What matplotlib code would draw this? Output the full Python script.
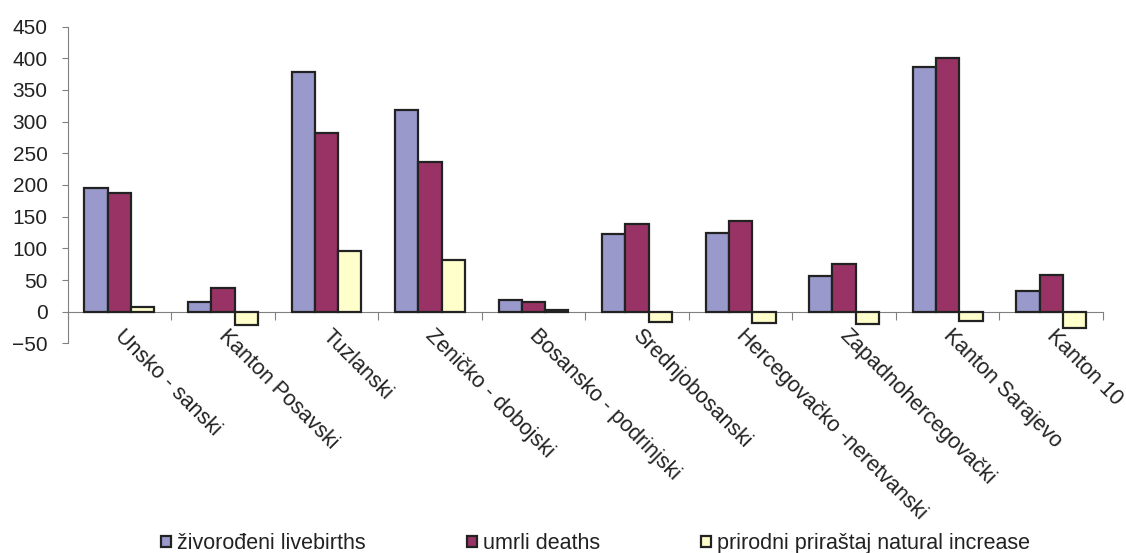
import numpy as np
import matplotlib
matplotlib.use('Agg')
import matplotlib.pyplot as plt
import matplotlib.transforms as mtransforms
from matplotlib.ticker import FixedLocator, NullFormatter

plt.rcParams['font.family'] = ['Liberation Sans', 'DejaVu Sans']

cantons = ['Unsko - sanski', 'Kanton Posavski', 'Tuzlanski', 'Zeničko - dobojski',
           'Bosansko - podrinjski', 'Srednjobosanski', 'Hercegovačko -neretvanski',
           'Zapadnohercegovački', 'Kanton Sarajevo', 'Kanton 10']
livebirths = [196, 16, 378, 318, 18, 122, 125, 56, 386, 33]
deaths = [188, 37, 282, 237, 16, 138, 143, 76, 400, 58]
natural_increase = [8, -21, 96, 81, 2, -16, -18, -20, -14, -25]

series_labels = ['živorođeni livebirths', 'umrli deaths', 'prirodni priraštaj natural increase']
colors = ['#9999cc', '#993366', '#ffffcc']

fig = plt.figure(figsize=(11.26, 5.53), dpi=100)
ax = fig.add_axes([0.0601, 0.379, 0.9194, 0.573])

x = np.arange(len(cantons))
w = 0.225
for k, vals in enumerate([livebirths, deaths, natural_increase]):
    ax.bar(x + (k - 1) * w, vals, width=w, color=colors[k], edgecolor='#222222',
           linewidth=1.6, label=series_labels[k], zorder=3)

ax.set_xlim(-0.5, len(cantons) - 0.5)
ax.set_ylim(-50, 450)
ax.set_yticks(range(-50, 451, 50))

for s in ['top', 'right']:
    ax.spines[s].set_visible(False)
ax.spines['bottom'].set_position(('data', 0))
ax.spines['bottom'].set_color('#808080')
ax.spines['left'].set_color('#808080')
ax.spines['bottom'].set_zorder(2)

ax.xaxis.set_major_locator(FixedLocator(np.arange(-0.5, len(cantons), 1.0)))
ax.xaxis.set_major_formatter(NullFormatter())
ax.xaxis.set_minor_locator(FixedLocator(x))
ax.set_xticklabels(cantons, minor=True, rotation=-45, ha='left', va='top',
                   rotation_mode='anchor', fontsize=15.5, color='#222222')
ax.tick_params(axis='x', which='major', direction='out', length=6, color='#808080')
ax.tick_params(axis='x', which='minor', length=0, pad=10)
ax.tick_params(axis='y', direction='out', length=4.5, color='#808080', labelsize=15,
               labelcolor='#222222', pad=10)

# nudge the slanted category labels right, as in the original
shift = mtransforms.ScaledTranslation(4.5 / 72, 0, fig.dpi_scale_trans)
for lbl in ax.xaxis.get_minorticklabels():
    lbl.set_transform(lbl.get_transform() + shift)

fig.legend(loc='center', bbox_to_anchor=(0.529, 0.017), ncol=3, frameon=False,
           fontsize=15.5, handlelength=0.45, handleheight=0.45, handletextpad=0.3,
           columnspacing=4.7, labelcolor='#222222', borderpad=0)

fig.savefig('out.png', dpi=100)
